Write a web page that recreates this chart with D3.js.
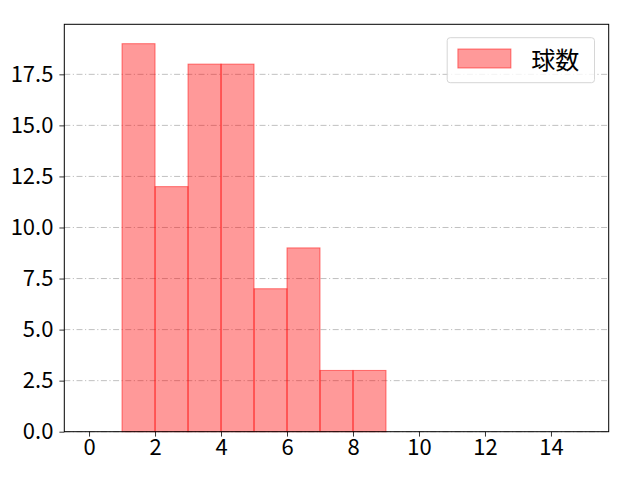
<!DOCTYPE html>
<html>
<head>
<meta charset="utf-8">
<script src="https://cdn.jsdelivr.net/npm/d3@7"></script>
<style>
  body { margin: 0; background: #fff; }
  text { font-family: "Noto Sans CJK JP", "DejaVu Sans", sans-serif; }
</style>
</head>
<body>
<div id="chart"></div>
<script>
// histogram bins (left edge) and counts
const binStarts = [1, 2, 3, 4, 5, 6, 7, 8];
const counts = [19, 12, 18, 18, 7, 9, 3, 3];
const xTicks = [0, 2, 4, 6, 8, 10, 12, 14];
const yTicks = [0, 2.5, 5, 7.5, 10, 12.5, 15, 17.5];
const seriesName = '球数';

const width = 640, height = 480;
const margin = { top: 24.3, right: 31.3, bottom: 48.3, left: 64.3 };
const innerW = width - margin.left - margin.right;
const innerH = height - margin.top - margin.bottom;
const fontSize = 22;

const svg = d3.select('#chart').append('svg')
  .attr('width', width)
  .attr('height', height);

const x = d3.scaleLinear().domain([-0.75, 15.75]).range([0, innerW]);
const y = d3.scaleLinear().domain([0, 19.95]).range([innerH, 0]);

const g = svg.append('g').attr('transform', `translate(${margin.left},${margin.top})`);

// grid lines (horizontal, dash-dot)
g.append('g').selectAll('line')
  .data(yTicks)
  .enter().append('line')
  .attr('x1', 0).attr('x2', innerW)
  .attr('y1', d => y(d)).attr('y2', d => y(d))
  .attr('stroke', '#b0b0b0')
  .attr('stroke-width', 0.8)
  .attr('stroke-dasharray', '6,2.5,1.2,2.5');

// bars
g.append('g').selectAll('rect')
  .data(binStarts)
  .enter().append('rect')
  .attr('x', d => x(d))
  .attr('y', (d, i) => y(counts[i]))
  .attr('width', d => x(d + 1) - x(d))
  .attr('height', (d, i) => y(0) - y(counts[i]))
  .attr('fill', 'rgba(255,0,0,0.4)')
  .attr('stroke', 'rgba(255,0,0,0.5)')
  .attr('stroke-width', 1);

// axes
const xAxis = g.append('g')
  .attr('transform', `translate(0,${innerH})`)
  .call(d3.axisBottom(x).tickValues(xTicks).tickSize(4.9).tickPadding(3).tickFormat(d3.format('d')));
const yAxis = g.append('g')
  .call(d3.axisLeft(y).tickValues(yTicks).tickSize(4.9).tickPadding(6).tickFormat(d3.format('.1f')));

[xAxis, yAxis].forEach(a => {
  a.select('.domain').remove();
  a.selectAll('line').attr('stroke', '#000').attr('stroke-width', 0.8);
  a.selectAll('text').attr('font-size', fontSize).attr('fill', '#000');
});

// frame
g.append('rect')
  .attr('width', innerW).attr('height', innerH)
  .attr('fill', 'none').attr('stroke', '#000').attr('stroke-width', 1);

// legend
const legend = g.append('g').attr('transform', `translate(${innerW - 161.5},${13.4})`);
legend.append('rect')
  .attr('width', 147.3).attr('height', 45)
  .attr('rx', 3)
  .attr('fill', 'rgba(255,255,255,0.8)')
  .attr('stroke', '#d6d6d6');
legend.append('rect')
  .attr('x', 10.7).attr('y', 11.3)
  .attr('width', 53).attr('height', 19)
  .attr('fill', 'rgba(255,0,0,0.4)')
  .attr('stroke', 'rgba(255,0,0,0.5)');
legend.append('text')
  .attr('x', 84).attr('y', 31)
  .attr('font-size', 24)
  .text(seriesName);
</script>
</body>
</html>
